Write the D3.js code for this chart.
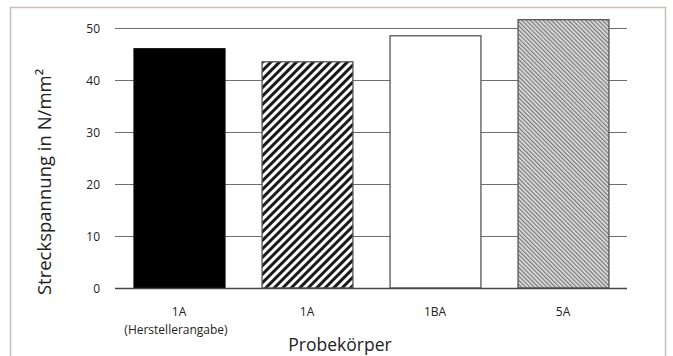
<!DOCTYPE html>
<html><head><meta charset="utf-8">
<script src="https://cdn.jsdelivr.net/npm/d3@7"></script>
<style>body{margin:0;background:#fff}svg{display:block}</style>
</head><body>
<script>
const categories = ["1A|(Herstellerangabe)", "1A", "1BA", "5A"];
const values = [46.0, 43.5, 48.5, 51.6];
const fills = ["solid", "wideStripe", "none", "fineHatch"];
const yTicks = [0, 10, 20, 30, 40, 50];
const yTitle = "Streckspannung in N/mm²";
const xTitle = "Probekörper";

const W = 673, H = 356;
const svg = d3.select("body").append("svg").attr("width", W).attr("height", H);
const font = "Open Sans, Lato, sans-serif";

// frame
svg.append("rect").attr("x", 10.5).attr("y", 7.5).attr("width", 655).attr("height", 360)
  .attr("fill", "none").attr("stroke", "#c8bfb5").attr("stroke-width", 1.5);

const defs = svg.append("defs");
const p1 = defs.append("pattern").attr("id", "wideStripe").attr("patternUnits", "userSpaceOnUse")
  .attr("width", 6).attr("height", 6).attr("patternTransform", "rotate(45)");
p1.append("rect").attr("width", 6).attr("height", 6).attr("fill", "#fff");
p1.append("rect").attr("width", 3).attr("height", 6).attr("fill", "#1a1a1a");
const p2 = defs.append("pattern").attr("id", "fineHatch").attr("patternUnits", "userSpaceOnUse")
  .attr("width", 3).attr("height", 3).attr("patternTransform", "rotate(-45)");
p2.append("rect").attr("width", 3).attr("height", 3).attr("fill", "#e2e2e2");
p2.append("rect").attr("width", 1.3).attr("height", 3).attr("fill", "#7a7a7a");

const x = d3.scaleBand().domain(categories).range([115, 627]).paddingInner(0.29).paddingOuter(0.145);
const y = d3.scaleLinear().domain([0, 50]).range([288, 28]);

// gridlines
svg.append("g").selectAll("line").data(yTicks.filter(d => d > 0)).join("line")
  .attr("x1", 115).attr("x2", 627).attr("y1", d => y(d) + 0.5).attr("y2", d => y(d) + 0.5)
  .attr("stroke", "#6e6e6e").attr("stroke-width", 1.2);

// y axis labels
const yAxis = svg.append("g").attr("transform", "translate(115,0)")
  .call(d3.axisLeft(y).tickValues(yTicks).tickSize(0).tickPadding(15));
yAxis.select(".domain").remove();
yAxis.selectAll("text").attr("font-family", font).attr("font-size", 12).attr("fill", "#222").attr("dy", "0.35em");

// bars
svg.append("g").selectAll("rect").data(categories).join("rect")
  .attr("x", d => x(d) + 0.5).attr("width", x.bandwidth())
  .attr("y", (d, i) => y(values[i])).attr("height", (d, i) => y(0) - y(values[i]))
  .attr("fill", (d, i) => fills[i] === "solid" ? "#000" : fills[i] === "none" ? "#fff" : `url(#${fills[i]})`)
  .attr("stroke", (d, i) => fills[i] === "solid" ? "#000" : "#555").attr("stroke-width", 1.3);

// x axis
svg.append("line").attr("x1", 115).attr("x2", 627).attr("y1", y(0) + 0.5).attr("y2", y(0) + 0.5)
  .attr("stroke", "#444").attr("stroke-width", 1.3);
const xl = svg.append("g").selectAll("text").data(categories).join("text")
  .attr("x", d => x(d) + x.bandwidth() / 2).attr("y", 312)
  .attr("text-anchor", "middle").attr("font-family", font).attr("font-size", 12).attr("fill", "#222");
xl.each(function(d) {
  const parts = d.split("|");
  parts.forEach((p, i) => d3.select(this).append("tspan")
    .attr("x", x(d) + x.bandwidth() / 2 - (i === 1 ? 3 : 0)).attr("dy", i === 0 ? "0.35em" : "1.45em").text(p));
});

// titles
svg.append("text").attr("x", 340).attr("y", 351).attr("text-anchor", "middle")
  .attr("font-family", font).attr("font-size", 17.5).attr("fill", "#222").text(xTitle);
svg.append("text").attr("transform", "translate(51,182) rotate(-90)").attr("text-anchor", "middle")
  .attr("font-family", font).attr("font-size", 18.5).attr("fill", "#222").text(yTitle);
</script>
</body></html>
